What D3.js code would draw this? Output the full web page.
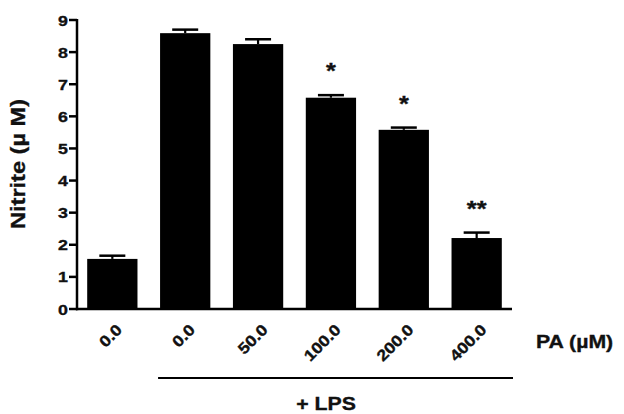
<!DOCTYPE html>
<html>
<head>
<meta charset="utf-8">
<script src="https://cdn.jsdelivr.net/npm/d3@7"></script>
<style>
  body { margin: 0; background: #fff; }
  text { font-family: "Liberation Sans", Arial, sans-serif; font-weight: bold; fill: #111; stroke: #111; stroke-width: 0.35px; }
</style>
</head>
<body>
<svg id="chart" width="624" height="414"></svg>
<script>
// data
var doses = ["0.0", "0.0", "50.0", "100.0", "200.0", "400.0"];
var nitrite = [1.56, 8.59, 8.25, 6.58, 5.58, 2.21];
var sem = [0.10, 0.11, 0.15, 0.08, 0.07, 0.17];
var marks = ["", "", "", "*", "*", "**"];
var yTicks = [0, 1, 2, 3, 4, 5, 6, 7, 8, 9];

var stretch = 1.15; // the figure's font is wider than Arial

var svg = d3.select("#chart");
var x0 = 77, x1 = 512, yBase = 309, yTop = 20;

var x = d3.scaleBand()
    .domain(d3.range(doses.length))
    .range([x0, x1])
    .paddingInner(0.31)
    .paddingOuter(0.14);

var y = d3.scaleLinear()
    .domain([0, 9])
    .range([yBase, yTop]);

// helper: stretched text placed with a transform
function label(tx, ty, rot, str, size, anchor) {
    var g = svg.append("g")
        .attr("transform", "translate(" + tx + "," + ty + ") rotate(" + rot + ") scale(" + stretch + ",1)");
    g.append("text")
        .attr("text-anchor", anchor)
        .style("font-size", size + "px")
        .text(str);
    return g;
}

// bars
svg.selectAll(".bar")
    .data(nitrite)
    .enter().append("rect")
    .attr("class", "bar")
    .attr("x", function(d, i) { return x(i); })
    .attr("y", function(d) { return y(d); })
    .attr("width", x.bandwidth())
    .attr("height", function(d) { return yBase - y(d); })
    .style("fill", "#000");

// error bars (upper only)
var capW = 13;
nitrite.forEach(function(d, i) {
    var cx = x(i) + x.bandwidth() / 2;
    svg.append("line")
        .attr("x1", cx).attr("x2", cx)
        .attr("y1", y(d)).attr("y2", y(d + sem[i]))
        .style("stroke", "#000").style("stroke-width", 2.2);
    svg.append("line")
        .attr("x1", cx - capW).attr("x2", cx + capW)
        .attr("y1", y(d + sem[i])).attr("y2", y(d + sem[i]))
        .style("stroke", "#000").style("stroke-width", 2.5);
    if (marks[i]) {
        label(cx, y(d + sem[i]) - 17, 0, marks[i], 22, "middle");
    }
});

// y axis
svg.append("line")
    .attr("x1", x0).attr("x2", x0)
    .attr("y1", y(9) - 1).attr("y2", yBase + 1.2)
    .style("stroke", "#000").style("stroke-width", 2.5);
yTicks.forEach(function(t) {
    svg.append("line")
        .attr("x1", x0 - 8).attr("x2", x0)
        .attr("y1", y(t)).attr("y2", y(t))
        .style("stroke", "#000").style("stroke-width", 2.5);
    label(x0 - 9, y(t) + 5.5, 0, t, 15.5, "end");
});

// x axis
svg.append("line")
    .attr("x1", x0 - 1).attr("x2", x1)
    .attr("y1", yBase).attr("y2", yBase)
    .style("stroke", "#000").style("stroke-width", 2.5);

// rotated dose labels
doses.forEach(function(d, i) {
    var cx = x(i) + x.bandwidth() / 2;
    label(cx + 2, 322, -45, d, 15.5, "end")
        .select("text").attr("dy", "0.8em");
});

label(536, 348, 0, "PA (\u00b5M)", 18.5, "start");

// LPS bracket
svg.append("line")
    .attr("x1", x(1) - 2).attr("x2", x1 + 1)
    .attr("y1", 378).attr("y2", 378)
    .style("stroke", "#000").style("stroke-width", 2);
label(326, 410, 0, "+ LPS", 18.5, "middle");

// y title
label(25, 164, -90, "Nitrite (\u00b5 M)", 20.5, "middle");
</script>
</body>
</html>
